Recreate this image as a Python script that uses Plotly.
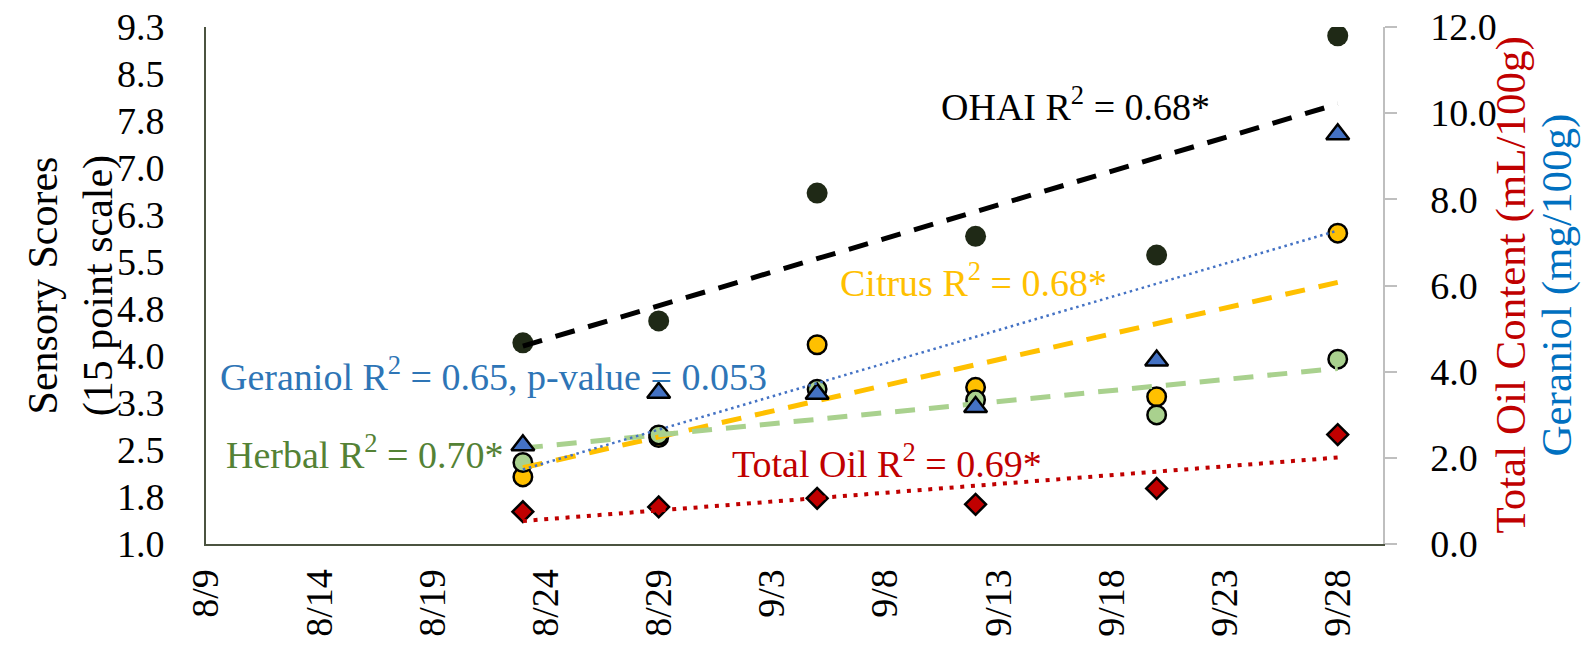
import numpy as np
import pandas as pd
import plotly.graph_objects as go

# Sampling dates
dates = ["2021-08-23", "2021-08-29", "2021-09-05", "2021-09-12", "2021-09-20", "2021-09-28"]

# Sensory scores (left axis, 15 point scale)
ohai = [4.21, 4.56, 6.60, 5.91, 5.61, 9.11]
citrus = [2.07, 2.70, 4.18, 3.50, 3.35, 5.96]
herbal = [2.30, 2.74, 3.47, 3.30, 3.06, 3.95]

# Chemistry (right axis)
geraniol = [2.29, 3.51, 3.49, 3.18, 4.26, 9.51]     # mg/100g
total_oil = [0.75, 0.86, 1.06, 0.92, 1.29, 2.54]    # mL/100g

# Axis ticks
left_tickvals = [1.0, 1.75, 2.5, 3.25, 4.0, 4.75, 5.5, 6.25, 7.0, 7.75, 8.5, 9.25]
left_ticktext = ["1.0", "1.8", "2.5", "3.3", "4.0", "4.8", "5.5", "6.3", "7.0", "7.8", "8.5", "9.3"]
right_tickvals = [0, 2, 4, 6, 8, 10, 12]
x_start, x_end = "2021-08-09", "2021-09-30"

FONT = "Times New Roman, Liberation Serif, serif"

x = pd.to_datetime(dates)
days = (x - x[0]).days.values.astype(float)


def trend(values):
    """Least-squares linear trend evaluated at the first and last date."""
    slope, icpt = np.polyfit(days, values, 1)
    ends = np.array([days[0], days[-1]])
    return [x[0], x[-1]], list(slope * ends + icpt)


fig = go.Figure()

# markers
fig.add_trace(go.Scatter(x=x, y=ohai, mode="markers", name="OHAI",
                         marker=dict(symbol="circle", size=21, color="#1F2916",
                                     line=dict(width=0))))
fig.add_trace(go.Scatter(x=x, y=citrus, mode="markers", name="Citrus",
                         marker=dict(symbol="circle", size=18.5, color="#FFC000",
                                     line=dict(width=2.5, color="black"))))
fig.add_trace(go.Scatter(x=x, y=herbal, mode="markers", name="Herbal",
                         marker=dict(symbol="circle", size=18.5, color="#A9D18E",
                                     line=dict(width=2.5, color="black"))))
fig.add_trace(go.Scatter(x=x, y=geraniol, mode="markers", name="Geraniol", yaxis="y2",
                         marker=dict(symbol="triangle-up", size=20, color="#4472C4",
                                     line=dict(width=2.5, color="black"))))
fig.add_trace(go.Scatter(x=x, y=total_oil, mode="markers", name="Total Oil", yaxis="y2",
                         marker=dict(symbol="diamond", size=16, color="#C00000",
                                     line=dict(width=2.5, color="black"))))

# trend lines
tx, ty = trend(ohai)
fig.add_trace(go.Scatter(x=tx, y=ty, mode="lines",
                         line=dict(color="black", width=5, dash="20px,14px")))
tx, ty = trend(citrus)
fig.add_trace(go.Scatter(x=tx, y=ty, mode="lines",
                         line=dict(color="#FFC000", width=5, dash="20px,14px")))
tx, ty = trend(herbal)
fig.add_trace(go.Scatter(x=tx, y=ty, mode="lines",
                         line=dict(color="#A9D18E", width=5, dash="20px,14px")))
tx, ty = trend(geraniol)
fig.add_trace(go.Scatter(x=tx, y=ty, mode="lines", yaxis="y2",
                         line=dict(color="#4472C4", width=2.5, dash="2.5px,3.7px")))
tx, ty = trend(total_oil)
fig.add_trace(go.Scatter(x=tx, y=ty, mode="lines", yaxis="y2",
                         line=dict(color="#C00000", width=4, dash="4px,6.7px")))

annotations = [
    dict(text="OHAI R<sup>2</sup> = 0.68*", x=0.623, y=0.851, color="black"),
    dict(text="Citrus R<sup>2</sup> = 0.68*", x=0.537, y=0.511, color="#FFC000"),
    dict(text="Geraniol R<sup>2</sup> = 0.65, p-value = 0.053", x=0.010, y=0.329, color="#2E75B6"),
    dict(text="Herbal R<sup>2</sup> = 0.70*", x=0.015, y=0.178, color="#548235"),
    dict(text="Total Oil R<sup>2</sup> = 0.69*", x=0.445, y=0.161, color="#C00000"),
]
ann = [dict(text=a["text"], x=a["x"], y=a["y"], xref="paper", yref="paper",
            xanchor="left", yanchor="middle", showarrow=False,
            font=dict(family=FONT, size=38, color=a["color"])) for a in annotations]

# axis titles
ann.append(dict(text="Sensory Scores<br>(15 point scale)", x=-0.115, y=0.5,
                xref="paper", yref="paper", textangle=-90, showarrow=False,
                xanchor="center", yanchor="middle",
                font=dict(family=FONT, size=42, color="black")))
ann.append(dict(text="Total Oil Content (mL/100g)", x=1.108, y=0.5,
                xref="paper", yref="paper", textangle=-90, showarrow=False,
                xanchor="center", yanchor="middle",
                font=dict(family=FONT, size=43, color="#C00000")))
ann.append(dict(text="Geraniol (mg/100g)", x=1.147, y=0.5,
                xref="paper", yref="paper", textangle=-90, showarrow=False,
                xanchor="center", yanchor="middle",
                font=dict(family=FONT, size=43, color="#0070C0")))

fig.update_layout(
    width=1583, height=648,
    margin=dict(l=206, r=200, t=27, b=104, autoexpand=False),
    paper_bgcolor="white", plot_bgcolor="white",
    showlegend=False,
    font=dict(family=FONT, size=38, color="black"),
    annotations=ann,
    xaxis=dict(type="date", range=[x_start, x_end], tick0=x_start, dtick=5 * 86400000,
               tickformat="%-m/%-d", tickangle=-90, showgrid=False, zeroline=False,
               showline=True, linecolor="#4B5340", linewidth=2, ticks="",
               automargin=False, ticklabelstandoff=8,
               tickfont=dict(family=FONT, size=38)),
    yaxis=dict(range=[1, 9.25], tickvals=left_tickvals, ticktext=left_ticktext,
               showgrid=False, zeroline=False, showline=True, linecolor="#4B5340",
               linewidth=2, ticks="", automargin=False, ticklabelstandoff=32,
               tickfont=dict(family=FONT, size=38)),
    yaxis2=dict(range=[0, 12], tickvals=right_tickvals, tickformat=".1f",
                overlaying="y", side="right", showgrid=False, zeroline=False,
                showline=True, linecolor="#BFBFBF", linewidth=1.5,
                ticks="outside", ticklen=12, tickcolor="#BFBFBF", tickwidth=1.5,
                automargin=False, ticklabelstandoff=26,
                tickfont=dict(family=FONT, size=38)),
)

fig.write_html("out.html")
